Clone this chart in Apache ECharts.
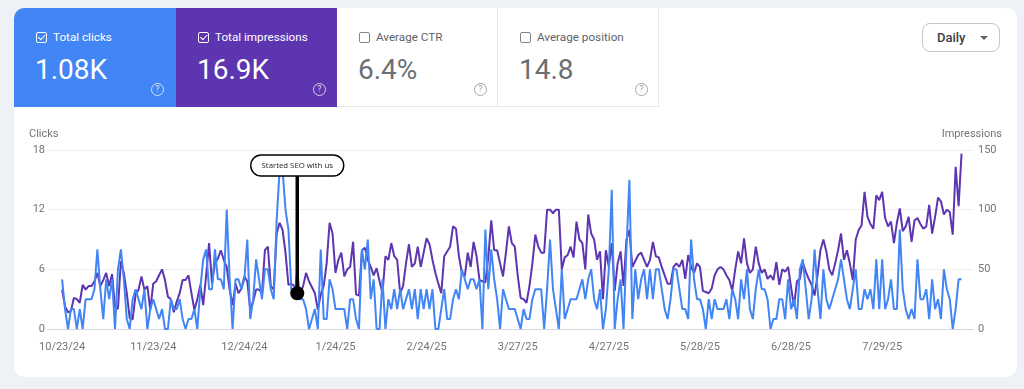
<!DOCTYPE html>
<html>
<head>
<meta charset="utf-8">
<script src="https://cdn.jsdelivr.net/npm/echarts@6/dist/echarts.min.js"></script>
<style>
  body { margin:0; width:1024px; height:389px; background:#eef1f6; overflow:hidden; position:relative;
         font-family: Roboto, 'Noto Sans', Arial, sans-serif; }
  #card { position:absolute; left:14px; top:8px; width:1003px; height:369px; background:#fff; border-radius:10px; overflow:hidden; }
  .tile { position:absolute; top:0; height:99px; width:161px; box-sizing:border-box; }
  .cb { position:absolute; left:22px; top:24px; width:11px; height:11px; border:1.5px solid; border-radius:2px; box-sizing:border-box; }
  .cb.on::after { content:''; position:absolute; left:2.6px; top:0px; width:3px; height:5.5px; border:solid #fff; border-width:0 1.5px 1.5px 0; transform:rotate(45deg); }
  .lbl { position:absolute; left:39px; top:22px; font-size:11.7px; line-height:14px; white-space:nowrap; }
  .val { position:absolute; left:21px; top:48px; font-size:28px; line-height:28px; white-space:nowrap; }
  .help { position:absolute; left:137px; top:75px; width:13px; height:13px; border:1.2px solid; border-radius:50%;
          font-size:9px; line-height:11px; text-align:center; box-sizing:border-box; opacity:.75; }
  .w { color:#5f6368; border-bottom:1px solid #e6e6e6; border-right:1px solid #e6e6e6; }
  .w .val { color:#6b6f73; }
  .w .cb { border-color:#80868b; border-width:1.2px; }
  .w .help { color:#80868b; }
  #daily { position:absolute; left:908px; top:15px; width:78px; height:29px; border:1px solid #c4c7c5; border-radius:8px; box-sizing:border-box; }
  #daily span { position:absolute; left:14px; top:0; line-height:27px; font-size:13px; font-weight:500; color:#3c4043; }
  #daily i { position:absolute; left:57px; top:12px; width:0; height:0; border-left:4px solid transparent; border-right:4px solid transparent; border-top:4px solid #5f6368; }
  #chart { position:absolute; left:0; top:0; width:1024px; height:389px; }
</style>
</head>
<body>
<div id="card">
  <div class="tile" style="left:0;background:#4285f4;color:#fff;width:162px">
    <span class="cb on" style="border-color:#fff"></span>
    <div class="lbl">Total clicks</div>
    <div class="val">1.08K</div>
    <div class="help">?</div>
  </div>
  <div class="tile" style="left:162px;background:#5e35b1;color:#fff">
    <span class="cb on" style="border-color:#fff"></span>
    <div class="lbl">Total impressions</div>
    <div class="val">16.9K</div>
    <div class="help">?</div>
  </div>
  <div class="tile w" style="left:323px">
    <span class="cb"></span>
    <div class="lbl">Average CTR</div>
    <div class="val">6.4%</div>
    <div class="help">?</div>
  </div>
  <div class="tile w" style="left:484px">
    <span class="cb"></span>
    <div class="lbl">Average position</div>
    <div class="val">14.8</div>
    <div class="help">?</div>
  </div>
  <div id="daily"><span>Daily</span><i></i></div>
</div>
<div id="chart"></div>
<script>
// ---- data ----
const startDate = [2024, 9, 23]; // 10/23/24
const clicks = [
5,2,0,2,2,0,2,0,3,3,
3,4,8,4,1,5,3,5,0,6,
8,5,1,0,3,4,3,2,4,0,
2,3,2,1,2,0,0,3,2,2,
3,1,0,1,1,2,0,4,7,8,
4,4,8,5,5,4,12,5,0,5,
5,4,5,9,1,3,7,5,3,6,
6,4,3,11,16,16,12,10,4,3,
6,3,3,2,0,1,2,0,8,1,1,
5,4,2,2,2,2,0,3,3,1,
0,8,6,9,3,5,0,0,5,0,
3,2,4,2,4,2,3,4,2,4,
1,4,2,4,2,4,0,0,2,4,
1,1,3,4,3,6,5,4,5,5,
4,5,0,10,4,8,5,3,0,4,
3,2,2,2,1,0,2,1,1,3,
4,4,4,0,4,9,4,2,0,6,
1,2,3,3,3,4,5,3,5,6,
3,2,4,0,2,6,14,0,3,5,
0,8,15,1,6,3,5,6,3,6,
3,6,6,4,2,1,3,6,6,4,
2,2,1,9,5,3,3,2,0,3,
1,3,2,2,2,3,1,4,3,1,5,
3,6,2,1,4,6,4,4,3,0,
1,1,3,3,1,5,2,3,1,6,
7,4,1,3,8,4,1,6,3,2,
3,4,5,7,5,3,2,4,6,2,
2,4,3,4,2,7,2,7,2,3,
5,2,2,10,4,2,1,2,1,7,
3,3,4,1,5,2,3,1,6,4,
3,0,2,5,5
];
const impressions = [
33,19,14,15,26,25,22,37,33,36,
36,40,47,36,41,47,36,46,18,17,
57,47,30,9,8,29,33,44,33,36,
16,38,40,45,50,41,27,25,14,23,
30,41,41,45,30,16,25,37,20,45,
72,38,55,59,66,58,52,33,20,38,
30,34,44,40,16,23,33,33,30,66,
69,36,33,80,89,83,64,37,38,36,
34,30,36,47,40,35,30,16,29,36,55,
89,80,47,58,64,44,50,52,73,29,
28,66,68,58,52,45,51,40,30,61,
58,72,61,58,30,36,55,71,52,55,
69,52,64,76,71,58,47,38,30,61,
65,69,86,84,61,47,44,64,52,73,
61,41,40,39,60,91,66,66,55,44,
64,86,72,69,45,26,25,22,36,55,
79,69,64,64,100,100,97,100,100,50,
60,62,69,60,90,75,72,50,96,80,
75,58,65,25,66,52,72,32,55,65,
36,75,83,52,57,62,64,58,52,58,
73,61,60,52,45,38,38,52,55,52,
58,42,62,52,47,55,52,32,31,30,
34,45,50,52,50,45,41,32,50,65,55,
76,55,47,50,69,55,47,50,42,45,
41,56,37,50,48,52,35,19,40,42,
56,48,42,37,28,45,66,75,65,50,
45,55,66,80,58,66,55,41,75,83,
87,115,94,88,84,112,108,115,93,86,
90,72,89,101,82,86,94,73,91,93,
88,84,86,104,80,94,110,107,96,100,
98,79,136,103,147
];
const tickLabels = ['10/23/24','11/23/24','12/24/24','1/24/25','2/24/25','3/27/25','4/27/25','5/28/25','6/28/25','7/29/25'];
const clickTicks = [0, 6, 12, 18];
const impressionTicks = [0, 50, 100, 150];
const axisNames = ['Clicks', 'Impressions'];
const annotation = { date: '1/11/25', clicks: 3.6, label: 'Started SEO with us' };

// category dates (one per day)
const dates = clicks.map((_, i) => {
  const d = new Date(Date.UTC(startDate[0], startDate[1], startDate[2] + i));
  return (d.getUTCMonth() + 1) + '/' + d.getUTCDate() + '/' + String(d.getUTCFullYear()).slice(2);
});
const tickValues = tickLabels.map(t => dates.indexOf(t));

const chart = echarts.init(document.getElementById('chart'), null, { renderer: 'canvas' });
const axisText = { color: '#70757a', fontSize: 11, fontFamily: 'Roboto' };
const gridLeft = 48, gridRight = 51, gridTop = 150;
chart.setOption({
  animation: false,
  backgroundColor: 'transparent',
  grid: { left: gridLeft, right: gridRight, top: gridTop, bottom: 60 },
  xAxis: {
    type: 'value',
    min: -4.8,
    max: dates.length - 1 + 3.9,
    axisLine: { show: true, lineStyle: { color: '#d5d7da', width: 1 } },
    axisTick: { show: false },
    splitLine: { show: false },
    axisLabel: Object.assign({}, axisText, {
      customValues: tickValues,
      margin: 13,
      formatter: v => dates[Math.round(v)]
    })
  },
  yAxis: [
    {
      type: 'value', min: clickTicks[0], max: clickTicks[clickTicks.length - 1], interval: clickTicks[1] - clickTicks[0],
      position: 'left',
      axisLine: { show: false }, axisTick: { show: false },
      axisLabel: Object.assign({}, axisText, { margin: 3 }),
      splitLine: { lineStyle: { color: '#efefef', width: 1 } }
    },
    {
      type: 'value', min: impressionTicks[0], max: impressionTicks[impressionTicks.length - 1], interval: impressionTicks[1] - impressionTicks[0],
      position: 'right',
      axisLine: { show: false }, axisTick: { show: false },
      axisLabel: Object.assign({}, axisText, { margin: 5 }),
      splitLine: { show: false }
    }
  ],
  series: [
    {
      name: 'Impressions', type: 'line', yAxisIndex: 1, showSymbol: false, z: 2,
      lineStyle: { color: '#5e35b1', width: 2 },
      data: impressions.map((v, i) => [i, v])
    },
    {
      name: 'Clicks', type: 'line', yAxisIndex: 0, showSymbol: false, z: 3,
      lineStyle: { color: '#4285f4', width: 2 },
      data: clicks.map((v, i) => [i, v])
    }
  ]
});

// annotation anchored to a date / click value
const ai = dates.indexOf(annotation.date);
const pDot = chart.convertToPixel({ xAxisIndex: 0, yAxisIndex: 0 }, [ai, annotation.clicks]);
const pTop = chart.convertToPixel({ xAxisIndex: 0, yAxisIndex: 0 }, [ai, 17.5]);
const bw = 93, bh = 21;
const W = chart.getWidth();
chart.setOption({
  graphic: [
    { type: 'text', left: gridLeft - 19, top: gridTop - 21,
      style: { text: axisNames[0], fill: axisText.color, font: '11px Roboto' } },
    { type: 'text', right: 1024 - 1002, top: gridTop - 21,
      style: { text: axisNames[1], fill: axisText.color, font: '11px Roboto' } },
    { type: 'line', z: 100, shape: { x1: pDot[0], y1: pTop[1] + bh, x2: pDot[0], y2: pDot[1] },
      style: { stroke: '#000', lineWidth: 3.5 } },
    { type: 'circle', z: 101, shape: { cx: pDot[0], cy: pDot[1], r: 7 }, style: { fill: '#000' } },
    { type: 'rect', z: 102, shape: { x: pDot[0] - bw / 2, y: pTop[1], width: bw, height: bh, r: bh / 2 },
      style: { fill: '#fff', stroke: '#000', lineWidth: 1.4 } },
    { type: 'text', z: 103, x: pDot[0], y: pTop[1] + bh / 2,
      style: { text: annotation.label, fill: '#222', font: '7.8px "Open Sans", "Noto Sans", sans-serif', align: 'center', verticalAlign: 'middle' } }
  ]
});
</script>
</body>
</html>
